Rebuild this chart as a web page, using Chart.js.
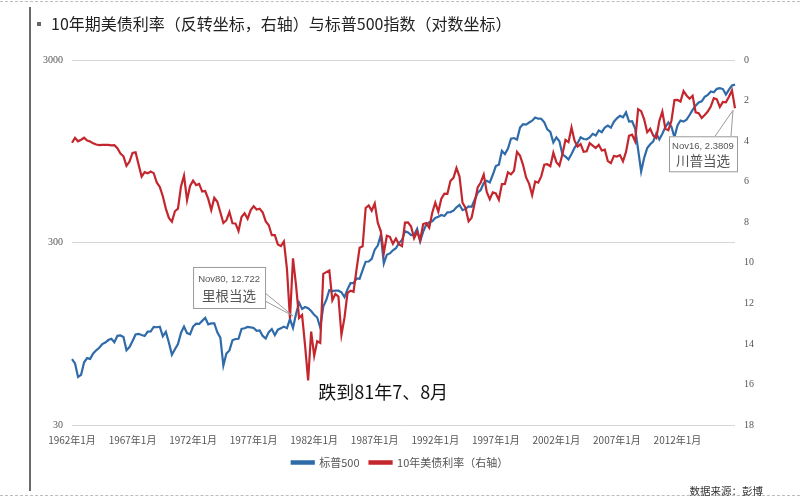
<!DOCTYPE html>
<html>
<head>
<meta charset="utf-8">
<script src="https://cdn.jsdelivr.net/npm/chart.js@4"></script>
<style>
  body { margin: 0; background: #fff; }
  #wrap { position: relative; width: 800px; height: 500px; overflow: hidden; }
  #c { position: absolute; left: 0; top: 0; }
  .dash { position: absolute; left: 0; width: 800px; border-top: 1px dashed #bdbdbd; }
  #vline { position: absolute; left: 29px; top: 7px; width: 2px; height: 484px; background: #6a6a6a; }
  #title { position: absolute; left: 37px; top: 11px; font: 16px "Noto Sans CJK SC", sans-serif; color: #222; white-space: nowrap; }
  #title .b { display: inline-block; width: 4px; height: 4px; background: #666; margin-right: 10px; vertical-align: middle; position: relative; top: -2px; }
  #src { position: absolute; right: 37px; top: 483px; font: 10.5px "Noto Sans CJK SC", sans-serif; color: #333; }
</style>
</head>
<body>
<div id="wrap">
  <canvas id="c" width="800" height="500"></canvas>
  <div class="dash" style="top:1px"></div>
  <div class="dash" style="top:495px"></div>
  <div id="vline"></div>
  <div id="title"><span class="b"></span>10年期美债利率（反转坐标，右轴）与标普500指数（对数坐标）</div>
  <div id="src">数据来源：彭博</div>
</div>
<script>
// quarterly samples, 1962 Q1 .. 2016 Nov
var years = [];
for (var y = 1962; y <= 2016; y++) years.push(y);
var months = [1, 4, 7, 10];

var spx = [
  68.8, 65.2, 55.0, 56.5,      // 1962
  66.2, 69.8, 69.1, 74.0,
  77.0, 79.5, 83.2, 84.9,
  87.6, 89.1, 85.3, 92.4,
  92.9, 91.1, 77.1, 80.2,      // 1966
  86.6, 94.0, 94.8, 93.3,
  92.2, 97.5, 97.7, 103.4,
  103.0, 103.7, 91.8, 97.1,
  85.0, 72.7, 78.0, 83.3,      // 1970
  95.9, 103.9, 95.6, 94.2,
  103.9, 107.7, 107.4, 111.6,
  116.0, 106.9, 108.2, 108.3,
  96.6, 90.3, 63.5, 73.9,      // 1974
  76.9, 87.3, 88.8, 89.0,
  100.9, 101.6, 103.4, 102.9,
  102.0, 98.4, 98.9, 92.3,
  89.3, 96.8, 100.7, 93.2,     // 1978
  99.9, 101.8, 103.8, 101.8,
  114.2, 102.1, 121.7, 140.5,
  129.6, 132.8, 130.9, 126.4,
  120.4, 116.4, 102.4, 133.7,  // 1982
  145.3, 164.4, 162.6, 163.6,
  163.4, 160.1, 150.7, 166.1,
  179.6, 179.8, 190.9, 189.8,
  211.8, 235.5, 236.1, 244.0,  // 1986
  274.1, 288.4, 329.8, 230.3,
  257.1, 261.3, 272.0, 279.0,
  297.5, 309.6, 346.1, 340.4,
  329.1, 330.8, 356.2, 304.0,  // 1990
  343.9, 375.3, 387.8, 392.5,
  408.8, 415.0, 424.2, 418.7,
  438.8, 440.2, 448.1, 467.8,
  481.6, 450.9, 458.3, 472.4,  // 1994
  470.4, 514.7, 562.1, 581.5,
  636.0, 654.2, 639.9, 705.3,
  786.2, 801.3, 954.3, 914.6,
  980.3, 1111.8, 1120.7, 1098.7, // 1998
  1279.6, 1335.2, 1328.7, 1362.9,
  1394.5, 1452.4, 1430.8, 1429.4,
  1366.0, 1249.5, 1211.2, 1059.8,
  1130.2, 1076.9, 911.6, 885.8,  // 2002
  855.7, 916.9, 990.3, 1050.7,
  1131.1, 1107.3, 1101.7, 1130.2,
  1181.3, 1156.9, 1234.2, 1207.0,
  1280.1, 1310.6, 1276.7, 1377.9, // 2006
  1438.2, 1482.4, 1455.3, 1549.4,
  1378.6, 1385.6, 1267.4, 968.8,
  735.1, 872.8, 987.5, 1036.2,
  1073.9, 1186.7, 1101.6, 1183.3, // 2010
  1286.1, 1363.6, 1292.3, 1131.4,
  1312.4, 1397.9, 1379.3, 1412.2,
  1498.1, 1597.6, 1685.7, 1756.5,
  1782.6, 1884.0, 1930.7, 2018.1, // 2014
  1995.0, 2085.5, 2103.8, 2079.4,
  1940.2, 2065.3, 2173.6, 2198.8
];

var ust10 = [
  4.08, 3.84, 4.01, 3.93,      // 1962
  3.83, 3.97, 4.02, 4.11,
  4.17, 4.20, 4.19, 4.19,
  4.19, 4.21, 4.20, 4.35,
  4.61, 4.75, 5.22, 5.01,      // 1966
  4.58, 4.55, 5.16, 5.75,
  5.53, 5.59, 5.50, 5.58,
  6.04, 6.26, 6.72, 7.33,
  7.79, 7.97, 7.46, 7.33,      // 1970
  6.24, 5.70, 6.91, 6.21,
  5.95, 6.17, 6.11, 6.49,
  6.46, 6.85, 7.40, 6.79,
  6.99, 7.51, 8.04, 7.90,      // 1974
  7.50, 8.05, 8.06, 8.43,
  7.74, 7.56, 7.83, 7.41,
  7.21, 7.37, 7.33, 7.52,
  7.96, 8.15, 8.64, 8.64,      // 1978
  9.10, 9.18, 8.95, 10.30,
  12.75, 9.78, 11.10, 12.722,
  12.57, 14.10, 15.80, 13.39,
  14.59, 13.87, 13.95, 10.55,  // 1982
  10.46, 10.38, 11.85, 11.54,
  11.67, 13.56, 12.72, 11.50,
  11.38, 11.43, 10.31, 9.26,
  9.19, 7.30, 7.17, 7.43,      // 1986
  7.08, 8.02, 8.45, 9.52,
  8.67, 8.72, 9.06, 8.80,
  9.09, 9.18, 8.02, 8.01,
  8.21, 8.79, 8.47, 8.89,      // 1990
  8.09, 8.04, 8.27, 7.53,
  7.03, 7.48, 6.84, 6.59,
  6.60, 5.97, 5.81, 5.33,
  5.75, 7.04, 7.30, 7.96,      // 1994
  7.78, 7.06, 6.28, 6.04,
  5.65, 6.51, 6.87, 6.53,
  6.58, 6.89, 6.12, 6.11,
  5.54, 5.64, 5.46, 4.53,      // 1998
  4.72, 5.18, 5.79, 6.11,
  6.66, 5.99, 6.05, 5.74,
  5.16, 5.14, 5.24, 4.57,
  5.04, 5.21, 4.65, 3.94,      // 2002
  4.05, 3.33, 3.98, 4.27,
  4.15, 4.53, 4.50, 4.10,
  4.22, 4.34, 4.18, 4.46,
  4.42, 4.99, 5.09, 4.73,      // 2006
  4.76, 4.69, 5.00, 4.53,
  3.74, 3.68, 4.01, 2.42,
  2.52, 2.93, 3.56, 3.39,
  3.73, 3.85, 3.01, 2.54,      // 2010
  3.39, 3.46, 3.00, 1.98,
  1.97, 2.05, 1.53, 1.75,
  1.91, 1.76, 2.58, 2.62,
  2.86, 2.71, 2.54, 2.30,      // 2014
  1.88, 1.94, 2.32, 2.07,
  2.09, 1.81, 1.50, 2.3809
];

var spxTicks = [30, 300, 3000];

var labels = [];
years.forEach(function (yr) {
  months.forEach(function (m) { labels.push(yr + '年' + m + '月'); });
});
labels[labels.length - 1] = '2016年11月';

var notes = [
  { at: '1980年10月', head: 'Nov80, 12.722', body: '里根当选' },
  { at: '2016年11月', head: 'Nov16, 2.3809', body: '川普当选' }
];

var cjk = '"Noto Sans CJK SC", sans-serif';

var callouts = {
  id: 'callouts',
  afterDatasetsDraw: function (chart) {
    var ctx = chart.ctx, xs = chart.scales.x, yr = chart.scales.yR;
    ctx.save();
    notes.forEach(function (n, k) {
      var i = labels.indexOf(n.at);
      var px = xs.getPixelForValue(i), py = yr.getPixelForValue(ust10[i]);
      var bx, by, w, h, a1, a2, tip;
      if (k === 0) {
        w = 72; h = 41; bx = px - 106; by = py - 51;
        a1 = [bx + w, by + 26]; a2 = [bx + w, by + 34]; tip = [px - 6, py - 2];
      } else {
        w = 68; h = 35; bx = px - 66; by = py + 28;
        a1 = [bx + 46, by]; a2 = [bx + 62, by]; tip = [px - 2, py + 2];
      }
      ctx.strokeStyle = '#9a9a9a';
      ctx.lineWidth = 1;
      ctx.beginPath();
      ctx.moveTo(a1[0], a1[1]); ctx.lineTo(tip[0], tip[1]); ctx.lineTo(a2[0], a2[1]);
      ctx.stroke();
      ctx.fillStyle = '#fff';
      ctx.fillRect(bx, by, w, h);
      ctx.strokeRect(bx + 0.5, by + 0.5, w, h);
      ctx.fillStyle = '#555';
      ctx.textAlign = 'center';
      ctx.textBaseline = 'middle';
      ctx.font = '9.5px "Liberation Sans", sans-serif';
      ctx.fillText(n.head, bx + w / 2, by + h * 0.3);
      ctx.font = '13.5px ' + cjk;
      ctx.fillText(n.body, bx + w / 2, by + h * 0.7);
    });
    // 81年低点说明
    var j = labels.indexOf('1981年7月');
    ctx.fillStyle = '#111';
    ctx.font = '18px ' + cjk;
    ctx.textAlign = 'center';
    ctx.fillText('跌到81年7、8月', xs.getPixelForValue(j) + 75, yr.getPixelForValue(ust10[j]) + 12);
    ctx.restore();
  }
};

new Chart(document.getElementById('c'), {
  type: 'line',
  data: {
    labels: labels,
    datasets: [
      { label: '标普500', data: spx, yAxisID: 'yL', borderColor: '#2f6ba9', backgroundColor: '#2f6ba9', borderWidth: 2.2, pointRadius: 0, order: 1 },
      { label: '10年美债利率（右轴）', data: ust10, yAxisID: 'yR', borderColor: '#c4262e', backgroundColor: '#c4262e', borderWidth: 2.2, pointRadius: 0, order: 0 }
    ]
  },
  options: {
    responsive: false,
    animation: false,
    layout: { padding: { top: 60, bottom: 22, left: 0, right: 0 } },
    plugins: {
      tooltip: { enabled: false },
      legend: {
        position: 'bottom',
        labels: {
          boxWidth: 22, boxHeight: 2.5, padding: 10, color: '#555',
          font: { size: 11, family: cjk },
          sort: function (a, b) { return a.datasetIndex - b.datasetIndex; }
        }
      }
    },
    scales: {
      x: {
        type: 'category',
        grid: { display: false, drawTicks: false },
        border: { display: false },
        ticks: {
          autoSkip: false, maxRotation: 0, minRotation: 0, padding: 9,
          color: '#555', font: { size: 10, family: cjk },
          callback: function (v, i) { return i % 20 === 0 ? labels[i] : ''; }
        },
        afterFit: function (s) { s.height = 22; }
      },
      yL: {
        type: 'logarithmic', position: 'left', min: 30, max: 3000,
        afterBuildTicks: function (s) { s.ticks = spxTicks.map(function (v) { return { value: v }; }); },
        grid: { color: '#d6d6d6', drawTicks: false },
        border: { display: false },
        ticks: { color: '#555', padding: 9, font: { size: 10, family: '"Liberation Serif", serif' }, callback: function (v) { return String(v); } },
        afterFit: function (s) { s.width = 72; }
      },
      yR: {
        type: 'linear', position: 'right', reverse: true, min: 0, max: 18,
        grid: { display: false, drawTicks: false },
        border: { display: false },
        ticks: { stepSize: 2, color: '#555', padding: 9, font: { size: 10, family: '"Liberation Serif", serif' } },
        afterFit: function (s) { s.width = 65; }
      }
    }
  },
  plugins: [callouts]
});
</script>
</body>
</html>
